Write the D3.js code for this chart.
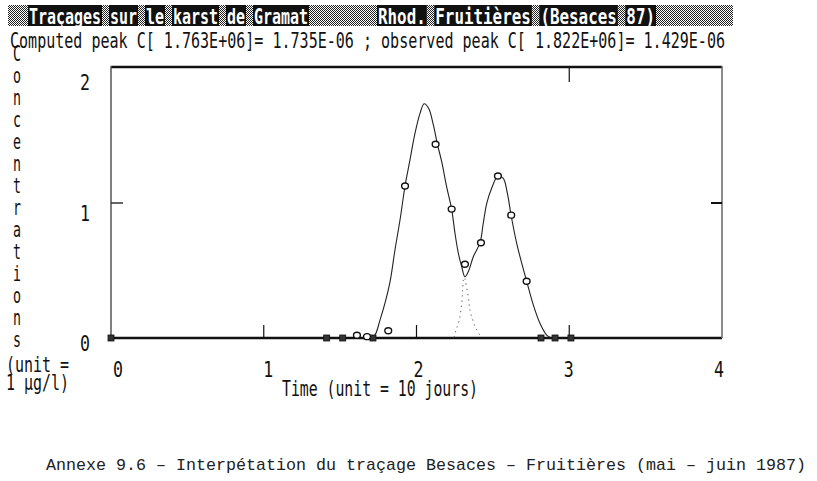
<!DOCTYPE html>
<html><head><meta charset="utf-8">
<script src="https://cdn.jsdelivr.net/npm/d3@7"></script>
<style>html,body{margin:0;padding:0;background:#fff;}svg{display:block;}</style>
</head><body>
<svg id="c" width="817" height="481"></svg>
<script>
// ---- data ----
const titleLeft = "Traçages sur le karst de Gramat";
const titleRight = "Rhod. Fruitières (Besaces 87)";
const subtitle = "Computed peak C[ 1.763E+06]= 1.735E-06 ; observed peak C[ 1.822E+06]= 1.429E-06";
const yLabelWord = "Concentrations";
const yUnitLines = ["(unit =", "1 µg/l)"];
const xLabel = "Time (unit = 10 jours)";
const caption = "Annexe 9.6 – Interpétation du traçage Besaces – Fruitières (mai – juin 1987)";
const xTicks = [0, 1, 2, 3, 4];
const yTicks = [0, 1, 2];

// observed points (time, concentration)
const obsT = [0, 1.412, 1.517, 1.610, 1.676, 1.715, 1.815, 1.925, 2.125, 2.230, 2.317, 2.422, 2.533, 2.620, 2.721, 2.815, 2.907, 3.011];
const obsC = [0, 0, 0, 0.02, 0.01, 0, 0.054, 1.126, 1.435, 0.955, 0.546, 0.706, 1.20, 0.91, 0.42, 0, 0, 0];

// fitted (computed) curve
const modelT = [1.700, 1.728, 1.761, 1.794, 1.827, 1.859, 1.892, 1.925, 1.957, 1.990, 2.023, 2.050, 2.080, 2.110, 2.137, 2.165, 2.197, 2.230, 2.252, 2.274, 2.296, 2.317, 2.339, 2.372, 2.416, 2.437, 2.460, 2.492, 2.533, 2.568, 2.595, 2.619, 2.656, 2.695, 2.721, 2.765, 2.808, 2.852, 2.885];
const modelC = [0, 0.022, 0.133, 0.26, 0.417, 0.652, 0.874, 1.126, 1.318, 1.516, 1.664, 1.735, 1.70, 1.58, 1.435, 1.306, 1.121, 0.955, 0.775, 0.627, 0.528, 0.454, 0.491, 0.602, 0.706, 0.85, 0.998, 1.109, 1.20, 1.183, 1.072, 0.911, 0.701, 0.528, 0.422, 0.244, 0.109, 0.022, 0];

// component tails (dotted)
const comp1T = [2.317, 2.339, 2.350, 2.368, 2.394, 2.427];
const comp1C = [0.44, 0.306, 0.207, 0.133, 0.059, 0.0];
const comp2T = [2.306, 2.302, 2.296, 2.280, 2.259, 2.245];
const comp2C = [0.43, 0.356, 0.257, 0.133, 0.059, 0.0];

// ---- drawing ----
const svg = d3.select("#c");
const x = d3.scaleLinear().domain([0, 4]).range([111, 722]);
const y = d3.scaleLinear().domain([0, 2]).range([338, 68]);
const xLab = d3.scaleLinear().domain([0, 4]).range([118, 719]);
const yLab = d3.scaleLinear().domain([0, 2]).range([351, 90]);

const defs = svg.append("defs");
const pat = defs.append("pattern").attr("id", "dither").attr("width", 2).attr("height", 2).attr("patternUnits", "userSpaceOnUse");
pat.append("rect").attr("width", 2).attr("height", 2).attr("fill", "#fff");
pat.append("rect").attr("x", 0).attr("y", 0).attr("width", 1).attr("height", 1).attr("fill", "#222");
pat.append("rect").attr("x", 1).attr("y", 1).attr("width", 1).attr("height", 1).attr("fill", "#222");

const FONT = "'DejaVu Sans Mono', monospace";
function pix(g, str, px, py, w, opt = {}) {
  return g.append("text")
    .attr("x", px).attr("y", py)
    .attr("font-family", FONT)
    .attr("font-size", opt.size || 21)
    .attr("fill", opt.fill || "#111")
    .attr("text-anchor", opt.anchor || "start")
    .attr("textLength", w)
    .attr("lengthAdjust", "spacingAndGlyphs")
    .text(str);
}

// title bar
svg.append("rect").attr("x", 8).attr("y", 5).attr("width", 725).attr("height", 21).attr("fill", "url(#dither)");
function titleSeg(str, x0, x1) {
  const cw = (x1 - x0) / str.length;
  let pos = 0;
  str.split(" ").forEach(word => {
    svg.append("rect").attr("x", x0 + pos * cw - 1).attr("y", 5)
      .attr("width", word.length * cw + 2).attr("height", 21).attr("fill", "#111");
    pos += word.length + 1;
  });
  pix(svg, str, x0, 24, x1 - x0, {fill: "#fff", size: 22}).attr("font-weight", "bold");
}
titleSeg(titleLeft, 29, 308);
titleSeg(titleRight, 378, 655);

pix(svg, subtitle, 10, 48, 715);

// vertical y label
yLabelWord.split("").forEach((ch, i) => {
  pix(svg, ch, 17, 61 + i * 22, 8, {anchor: "middle"});
});
yUnitLines.forEach((s, i) => pix(svg, s, 6, 372 + i * 18, 63));

// frame
const fr = svg.append("g");
fr.append("line").attr("x1", x(0)).attr("x2", x(4)).attr("y1", y(2) - 1).attr("y2", y(2) - 1).attr("stroke", "#111").attr("stroke-width", 2.5);
fr.append("line").attr("x1", x(0)).attr("x2", x(4)).attr("y1", y(0)).attr("y2", y(0)).attr("stroke", "#111").attr("stroke-width", 2.5);
fr.append("line").attr("x1", x(0)).attr("x2", x(0)).attr("y1", y(2) - 2).attr("y2", y(0)).attr("stroke", "#555").attr("stroke-width", 1.5);
fr.append("line").attr("x1", x(4)).attr("x2", x(4)).attr("y1", y(2) - 2).attr("y2", y(0)).attr("stroke", "#666").attr("stroke-width", 1.5);

// ticks
xTicks.filter(v => v > 0 && v < 4).forEach(v => {
  fr.append("line").attr("x1", x(v)).attr("x2", x(v)).attr("y1", y(0)).attr("y2", y(0) - 13).attr("stroke", "#111").attr("stroke-width", 1.2);
});
fr.append("line").attr("x1", x(3)).attr("x2", x(3)).attr("y1", y(2)).attr("y2", y(2) + 14).attr("stroke", "#111").attr("stroke-width", 1.2);
yTicks.filter(v => v > 0 && v < 2).forEach(v => {
  fr.append("line").attr("x1", x(0)).attr("x2", x(0) + 12).attr("y1", y(v)).attr("y2", y(v)).attr("stroke", "#333").attr("stroke-width", 1.5);
  fr.append("line").attr("x1", x(4)).attr("x2", x(4) - 11).attr("y1", y(v)).attr("y2", y(v)).attr("stroke", "#111").attr("stroke-width", 2);
});

// tick labels
xTicks.forEach(v => pix(svg, String(v), xLab(v), 377, 10, {anchor: "middle"}));
yTicks.forEach(v => pix(svg, String(v), 85, yLab(v), 10, {anchor: "middle"}));
pix(svg, xLabel, 282, 396, 196);

// curves
const line = d3.line().x(d => x(d[0])).y(d => y(d[1])).curve(d3.curveCatmullRom.alpha(0.5));
svg.append("path").datum(modelT.map((t, i) => [t, modelC[i]]))
  .attr("d", line).attr("fill", "none").attr("stroke", "#222").attr("stroke-width", 1.1);
const dline = d3.line().x(d => x(d[0])).y(d => y(d[1])).curve(d3.curveMonotoneY);
[[comp1T, comp1C], [comp2T, comp2C]].forEach(([T, C]) => {
  svg.append("path").datum(T.map((t, i) => [t, C[i]]))
    .attr("d", d3.line().x(d => x(d[0])).y(d => y(d[1])).curve(d3.curveCatmullRom))
    .attr("fill", "none").attr("stroke", "#555").attr("stroke-width", 1).attr("stroke-dasharray", "1.2,4");
});

// observed markers
const obs = obsT.map((t, i) => ({t, c: obsC[i]}));
svg.selectAll("rect.sq").data(obs.filter(d => d.c === 0)).enter().append("rect")
  .attr("class", "sq").attr("x", d => x(d.t) - 3).attr("y", d => y(d.c) - 3)
  .attr("width", 6).attr("height", 6).attr("fill", "#333").attr("stroke", "#111").attr("stroke-width", 0.8);
svg.selectAll("ellipse.ob").data(obs.filter(d => d.c !== 0)).enter().append("ellipse")
  .attr("class", "ob").attr("cx", d => x(d.t)).attr("cy", d => y(d.c))
  .attr("rx", 3.4).attr("ry", 3).attr("fill", "#fff").attr("stroke", "#111").attr("stroke-width", 1.4);

// caption
svg.append("text").attr("x", 46).attr("y", 470)
  .attr("font-family", "'Liberation Mono', monospace").attr("font-size", 17)
  .attr("fill", "#222").attr("textLength", 760).attr("lengthAdjust", "spacingAndGlyphs")
  .text(caption);
</script>
</body></html>
